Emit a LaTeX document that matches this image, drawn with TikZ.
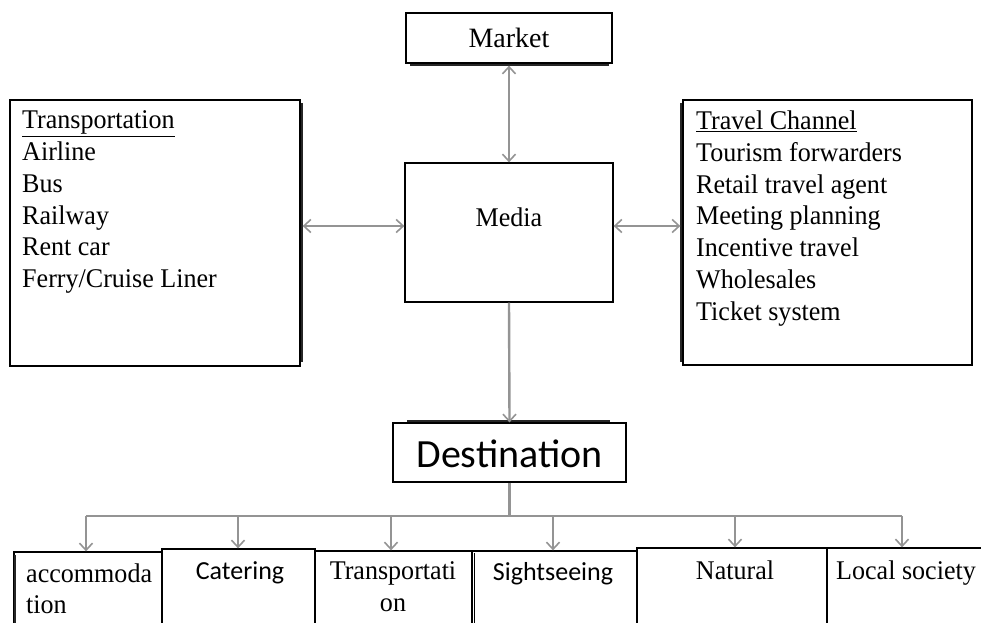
\documentclass[tikz,border=0pt]{standalone}
\usepackage{fontspec}
\setmainfont[FakeStretch=0.965]{Liberation Serif}
\newfontfamily\plainserif{Liberation Serif}
\newfontfamily\calib{Carlito}
\usetikzlibrary{arrows.meta}
\begin{document}
\begin{tikzpicture}[x=1pt,y=-1pt,
  box/.style={draw=black,line width=1.3pt,fill=white,inner sep=0pt},
  shd/.style={draw=black!85,line width=2.6pt},
  link/.style={draw=black!42,line width=2.4pt},
  conn/.style={link,-{Straight Barb[length=7pt,width=13pt,line width=1.6pt]}},
  biconn/.style={link,{Straight Barb[length=7pt,width=13pt,line width=1.6pt]}-{Straight Barb[length=7pt,width=13pt,line width=1.6pt]}},
  txt/.style={inner sep=0pt,font=\fontsize{27}{31.8}\selectfont},
  ctxt/.style={inner sep=0pt,font=\calib\fontsize{26}{31}\selectfont}]
\useasboundingbox (0,0) rectangle (981,622);
\begin{scope}
\clip (0,0) rectangle (981,622);
% top boxes
\draw[shd] (410,64.5) -- (609,64.5);
\node[box,minimum width=206pt,minimum height=50pt] (market) at (509,38) {};
\node[txt,anchor=base,font=\plainserif\fontsize{28}{31}\selectfont] (markettext) at (509,47) {Market};
\draw[shd] (302,103) -- (302,362);
\node[box,minimum width=290pt,minimum height=266pt] (left) at (155,233) {};
\node[txt,anchor=north west,align=left] (lefttext) at (22,110.6) {\underline{Transportation}\\Airline\\Bus\\Railway\\Rent car\\Ferry/Cruise Liner};
\draw[shd] (681,103) -- (681,362);
\node[box,minimum width=289pt,minimum height=265pt] (right) at (827.5,232.5) {};
\node[txt,anchor=north west,align=left] (righttext) at (696,110.6) {\underline{Travel Channel}\\Tourism forwarders\\Retail travel agent\\Meeting planning\\Incentive travel\\Wholesales\\Ticket system};
\node[box,minimum width=208pt,minimum height=139pt] (media) at (509,232.5) {};
\node[txt,anchor=base] (mediatext) at (509,226) {Media};
% destination
\draw[shd] (407,421.5) -- (610,421.5);
\node[box,minimum width=233pt,minimum height=59pt] (dest) at (509.5,452.5) {};
\node[ctxt,anchor=base,font=\calib\fontsize{40}{40}\selectfont] (desttext) at (509.5,467) {Destination};
% connectors
\draw[biconn] ([xshift=2pt]left.east |- 0,226) -- (media.west |- 0,226);
\draw[biconn] (media.east |- 0,226) -- ([xshift=-2pt]right.west |- 0,226);
\draw[biconn] ([yshift=-2pt]market.south) -- (media.north);
\draw[conn] (media.south) -- (dest.north);
% bus
\coordinate (b1) at (86,516);
\coordinate (b2) at (238,516);
\coordinate (b3) at (391,516);
\coordinate (b4) at (553,516);
\coordinate (b5) at (735,516);
\coordinate (b6) at (902,516);
\draw[link] (dest.south) -- (dest.south |- b1);
\draw[link] (b1) -- (b6);
% bottom boxes
\node[box,minimum width=148pt,minimum height=88pt] (acc) at (88,596) {};
\node[box,minimum width=153pt,minimum height=91pt] (cat) at (238.5,594.5) {};
\node[box,minimum width=157pt,minimum height=89pt] (trn) at (393.5,595.5) {};
\node[box,minimum width=165pt,minimum height=89pt] (sig) at (554.5,595.5) {};
\node[box,minimum width=190pt,minimum height=92pt] (nat) at (732,594) {};
\node[box,minimum width=173pt,minimum height=92pt] (loc) at (913.5,594) {};
\draw[shd] (15,555) -- (15,640);
\draw[black,line width=1.2pt] (474.5,553) -- (474.5,640);
\node[txt,anchor=north west,align=left,font=\fontsize{27}{31}\selectfont] (acctext) at (26,563.6) {accommoda\\tion};
\node[ctxt,anchor=base] (cattext) at (240,579) {Catering};
\node[txt,align=center,anchor=north,font=\fontsize{27}{32}\selectfont] (trntext) at (393,561.6) {Transportati\\on};
\node[ctxt,anchor=base] (sigtext) at (553,580) {Sightseeing};
\node[txt,anchor=base] (nattext) at (735,579) {Natural};
\node[txt,anchor=base] (loctext) at (906,579) {Local society};
\draw[conn] (b1) -- (b1 |- acc.north);
\draw[conn] (b2) -- (b2 |- cat.north);
\draw[conn] (b3) -- (b3 |- trn.north);
\draw[conn] (b4) -- (b4 |- sig.north);
\draw[conn] (b5) -- (b5 |- nat.north);
\draw[conn] (b6) -- (b6 |- loc.north);
\end{scope}
\end{tikzpicture}
\end{document}
